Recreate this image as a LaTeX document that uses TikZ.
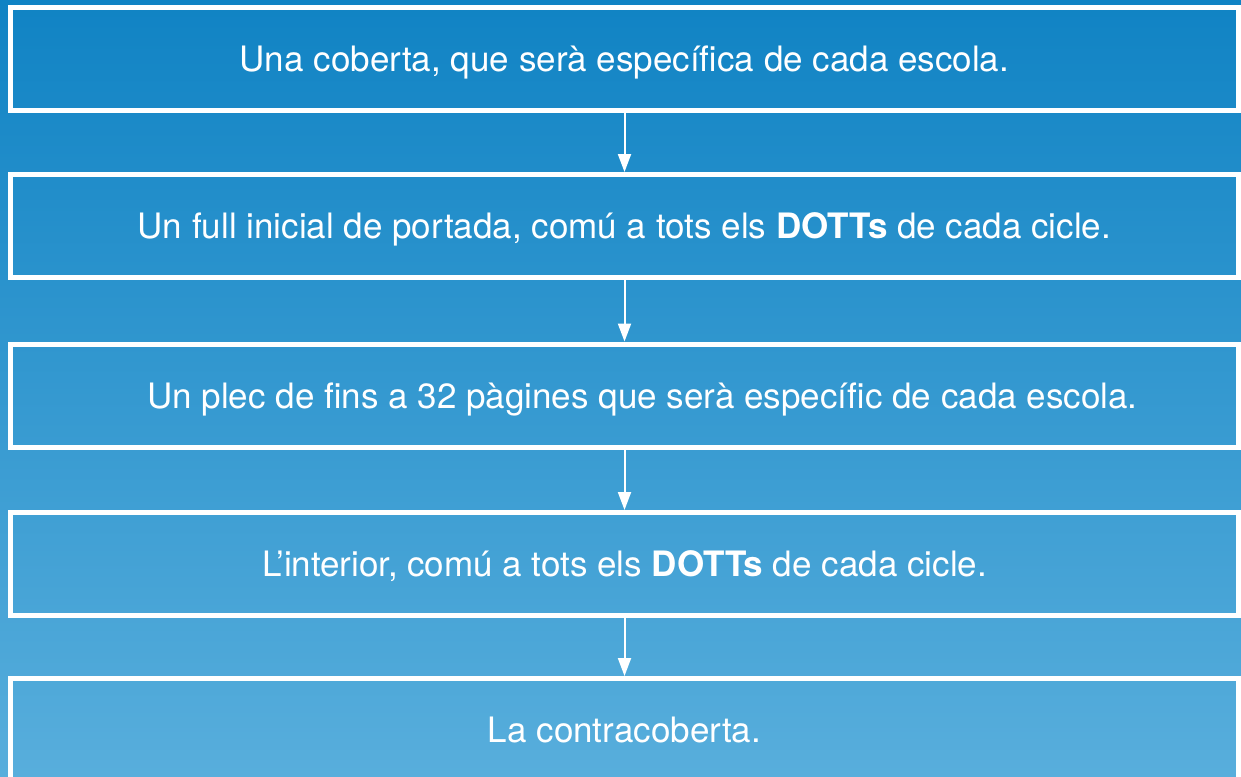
\documentclass[tikz,border=0pt]{standalone}
\usepackage{fontspec}
\setmainfont{TeX Gyre Heros}
\usetikzlibrary{arrows.meta}

\definecolor{bgtop}{RGB}{16,131,196}
\definecolor{bgbot}{RGB}{88,174,220}

\tikzset{
  stage/.style={draw=white, line width=2.5pt, minimum width=614pt, minimum height=51.5pt,
    inner sep=0pt, text=white, font=\fontsize{17.5pt}{20pt}\selectfont,
    text height=12.6pt, text depth=0pt},
  flow/.style={draw=white, line width=1pt, -{Triangle[width=6.5pt,length=9pt]}}
}

\begin{document}
\begin{tikzpicture}[x=0.5pt, y=-0.5pt]
  \useasboundingbox (0,0) rectangle (1241,776);
  \shade[top color=bgtop, bottom color=bgbot] (0,0) rectangle (1241,776);

  \node[stage] (b1) at (624.5, 59.0) {Una coberta, que serà específica de cada escola.};
  \node[stage] (b2) at (624.5,226.0) {Un full inicial de portada, comú a tots els \textbf{DOTTs} de cada cicle.};
  \node[stage] (b3) at (624.5,395.5) {\hspace*{18pt}Un plec de fins a 32 pàgines que serà específic de cada escola.};
  \node[stage] (b4) at (624.5,564.0) {L’interior, comú a tots els \textbf{DOTTs} de cada cicle.};
  \node[stage] (b5) at (624.5,730.0) {La contracoberta.};

  \draw[flow] (b1) -- (b2);
  \draw[flow] (b2) -- (b3);
  \draw[flow] (b3) -- (b4);
  \draw[flow] (b4) -- (b5);
\end{tikzpicture}
\end{document}
